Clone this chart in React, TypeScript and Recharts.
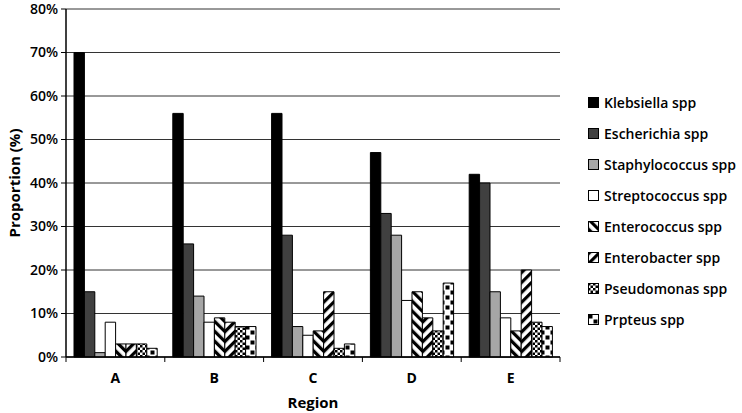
import React from "react";
import { Bar, BarChart, CartesianGrid, Legend, XAxis, YAxis } from "recharts";

const regions = ["A", "B", "C", "D", "E"];
const klebsiella = [70, 56, 56, 47, 42];
const escherichia = [15, 26, 28, 33, 40];
const staphylococcus = [1, 14, 7, 28, 15];
const streptococcus = [8, 8, 5, 13, 9];
const enterococcus = [3, 9, 6, 15, 6];
const enterobacter = [3, 8, 15, 9, 20];
const pseudomonas = [3, 7, 2, 6, 8];
const proteus = [2, 7, 3, 17, 7];
const yTicks = [0, 10, 20, 30, 40, 50, 60, 70, 80];

const series = [
  { key: "klebsiella", name: "Klebsiella spp", fill: "#000000" },
  { key: "escherichia", name: "Escherichia spp", fill: "#404040" },
  { key: "staphylococcus", name: "Staphylococcus spp", fill: "#a6a6a6" },
  { key: "streptococcus", name: "Streptococcus spp", fill: "#ffffff" },
  { key: "enterococcus", name: "Enterococcus spp", fill: "url(#enterococcus)" },
  { key: "enterobacter", name: "Enterobacter spp", fill: "url(#enterobacter)" },
  { key: "pseudomonas", name: "Pseudomonas spp", fill: "url(#pseudomonas)" },
  { key: "proteus", name: "Prpteus spp", fill: "url(#proteus)" },
];

const data = regions.map((region, i) => ({
  region,
  klebsiella: klebsiella[i],
  escherichia: escherichia[i],
  staphylococcus: staphylococcus[i],
  streptococcus: streptococcus[i],
  enterococcus: enterococcus[i],
  enterobacter: enterobacter[i],
  pseudomonas: pseudomonas[i],
  proteus: proteus[i],
}));

const FONT = "'Open Sans', sans-serif";
const W = 742;
const H = 413;
const PLOT_LEFT = 66;
const PLOT_RIGHT = 560;
const PLOT_TOP = 9;
const PLOT_BOTTOM = 357;
const BAND = (PLOT_RIGHT - PLOT_LEFT) / regions.length;

const Patterns = () => (
  <svg width={0} height={0} style={{ position: "absolute" }}>
    <defs>
      <pattern id="enterococcus" patternUnits="userSpaceOnUse" width={7} height={7} patternTransform="rotate(-45)">
        <rect width={7} height={7} fill="#fff" />
        <rect width={3.2} height={7} fill="#000" />
      </pattern>
      <pattern id="enterobacter" patternUnits="userSpaceOnUse" width={7} height={7} patternTransform="rotate(45)">
        <rect width={7} height={7} fill="#fff" />
        <rect width={3.2} height={7} fill="#000" />
      </pattern>
      <pattern id="pseudomonas" patternUnits="userSpaceOnUse" width={5} height={5}>
        <rect width={5} height={5} fill="#fff" />
        <rect width={2.5} height={2.5} fill="#000" />
        <rect x={2.5} y={2.5} width={2.5} height={2.5} fill="#000" />
      </pattern>
      <pattern id="proteus" patternUnits="userSpaceOnUse" width={10} height={10}>
        <rect width={10} height={10} fill="#fff" />
        <rect x={0.5} y={0.5} width={4} height={4} fill="#000" />
        <rect x={5.5} y={5.5} width={4} height={4} fill="#000" />
      </pattern>
    </defs>
  </svg>
);

const RegionTick = ({ x, payload, index }: any) => (
  <g>
    {index === 0 && (
      <line x1={x - BAND / 2} x2={x - BAND / 2} y1={PLOT_BOTTOM} y2={PLOT_BOTTOM + 5} stroke="#000" />
    )}
    <line x1={x + BAND / 2} x2={x + BAND / 2} y1={PLOT_BOTTOM} y2={PLOT_BOTTOM + 5} stroke="#000" />
    <text x={x} y={PLOT_BOTTOM + 26} textAnchor="middle" fontFamily={FONT} fontSize={14} fontWeight={700} fill="#000">
      {payload.value}
    </text>
  </g>
);

const renderLegend = () => (
  <div style={{ fontFamily: FONT, fontSize: 14, fontWeight: 600, color: "#000" }}>
    {series.map((s) => (
      <div key={s.key} style={{ display: "flex", alignItems: "center", height: 31 }}>
        <svg width={11} height={11} style={{ marginRight: 5 }}>
          <rect x={0.5} y={0.5} width={10} height={10} fill={s.fill} stroke="#000" />
        </svg>
        <span>{s.name}</span>
      </div>
    ))}
  </div>
);

export default function App() {
  return (
    <div style={{ position: "relative", width: W, height: H, background: "#fff" }}>
      <style>{"body{margin:0}"}</style>
      <Patterns />
      <BarChart
        width={W}
        height={H}
        data={data}
        margin={{ top: PLOT_TOP, right: W - PLOT_RIGHT, bottom: 0, left: 0 }}
        barSize={10.4}
        barGap={0}
      >
        <CartesianGrid vertical={false} stroke="#333" />
        <XAxis
          dataKey="region"
          height={H - PLOT_BOTTOM}
          axisLine={{ stroke: "#000", strokeWidth: 1.5 }}
          tickLine={false}
          tick={<RegionTick />}
          interval={0}
          label={{
            content: () => (
              <text x={(PLOT_LEFT + PLOT_RIGHT) / 2} y={408} textAnchor="middle" fontFamily={FONT} fontSize={15} fontWeight={700} fill="#000">
                Region
              </text>
            ),
          }}
        />
        <YAxis
          width={PLOT_LEFT}
          domain={[0, 80]}
          ticks={yTicks}
          interval={0}
          tickFormatter={(v: number) => `${v}%`}
          axisLine={{ stroke: "#000", strokeWidth: 1.5 }}
          tickLine={{ stroke: "#000" }}
          tickSize={5}
          tickMargin={3}
          tick={{ fontFamily: FONT, fontSize: 14, fontWeight: 600, fill: "#000" }}
          label={{
            content: () => (
              <text
                x={14}
                y={(PLOT_TOP + PLOT_BOTTOM) / 2}
                transform={`rotate(-90 14 ${(PLOT_TOP + PLOT_BOTTOM) / 2})`}
                textAnchor="middle"
                dominantBaseline="central"
                fontFamily={FONT}
                fontSize={15}
                fontWeight={700}
                fill="#000"
              >
                Proportion (%)
              </text>
            ),
          }}
        />
        <Legend
          layout="vertical"
          align="center"
          verticalAlign="middle"
          content={renderLegend}
          wrapperStyle={{ left: 588, top: 87, width: 154 }}
        />
        {series.map((s) => (
          <Bar
            key={s.key}
            dataKey={s.key}
            name={s.name}
            fill={s.fill}
            stroke="#000"
            strokeWidth={1}
            isAnimationActive={false}
          />
        ))}
      </BarChart>
    </div>
  );
}
